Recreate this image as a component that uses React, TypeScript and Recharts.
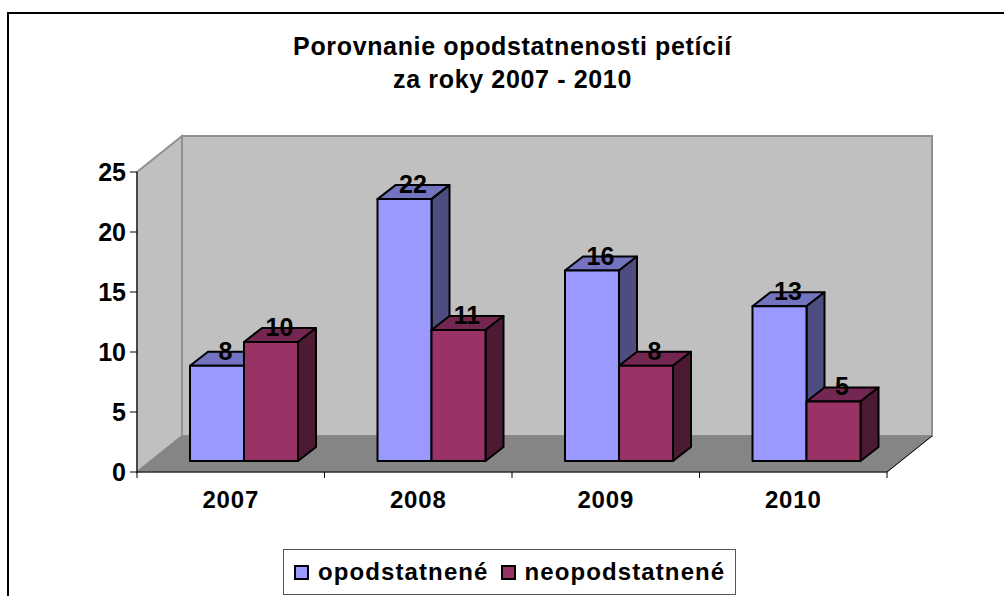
import React from 'react';
import { BarChart, Bar, XAxis, YAxis, Legend, LabelList, usePlotArea } from 'recharts';

const categories = ['2007', '2008', '2009', '2010'];
const opodstatnene = [8, 22, 16, 13];
const neopodstatnene = [10, 11, 8, 5];
const yTicks = [0, 5, 10, 15, 20, 25];
const titleLines = ['Porovnanie opodstatnenosti petícií', 'za roky 2007 - 2010'];

const data = categories.map((rok, i) => ({
  rok,
  opodstatnené: opodstatnene[i],
  neopodstatnené: neopodstatnene[i],
}));

const FONT = '"Liberation Sans", Arial, sans-serif';
const WALL_DX = 45;
const WALL_DY = 36;
const BAR_DX = 18;
const BAR_DY = 14;
const SHIFT_X = 13;
const LIFT_Y = 11;
const HEIGHT_K = 0.992;

function Backdrop() {
  const p = usePlotArea();
  if (!p) return null;
  const { x, y, width: w, height: h } = p;
  const band = w / categories.length;
  const b = y + h;
  return (
    <g>
      <path d="M8 596 V13 H1004" fill="none" stroke="#000" strokeWidth={2} />
      {titleLines.map((t, i) => (
        <text key={t} x={512.5} y={55 + i * 33} textAnchor="middle" fontFamily={FONT} fontWeight="bold" fontSize={25} letterSpacing={0.65} fill="#000">
          {t}
        </text>
      ))}
      <polygon
        points={`${x + WALL_DX},${y - WALL_DY} ${x + w + WALL_DX},${y - WALL_DY} ${x + w + WALL_DX},${b - WALL_DY} ${x + WALL_DX},${b - WALL_DY}`}
        fill="#C0C0C0" stroke="#909090" strokeWidth={2}
      />
      <polygon
        points={`${x},${y} ${x + WALL_DX},${y - WALL_DY} ${x + WALL_DX},${b - WALL_DY} ${x},${b}`}
        fill="#C0C0C0" stroke="#909090" strokeWidth={2}
      />
      <polygon
        points={`${x},${b} ${x + WALL_DX},${b - WALL_DY} ${x + w + WALL_DX},${b - WALL_DY} ${x + w},${b}`}
        fill="#858585" stroke="#858585" strokeWidth={1}
      />
      <line x1={x + w} y1={b} x2={x + w + WALL_DX} y2={b - WALL_DY} stroke="#000" strokeWidth={1} />
      {[0, 1, 2, 3, 4].map((i) => (
        <line key={i} x1={x + i * band} x2={x + i * band} y1={b} y2={b + 6} stroke="#000" strokeWidth={1} />
      ))}
    </g>
  );
}

function makeShape(topFill: string, sideFill: string) {
  return function Bar3D(props: any) {
    const { x, y, width: w, height, fill } = props;
    const X = x + SHIFT_X;
    const base = y + height - LIFT_Y;
    const top = base - height * HEIGHT_K;
    const s = { stroke: '#000', strokeWidth: 2, strokeLinejoin: 'round' as const };
    return (
      <g>
        <polygon points={`${X},${top} ${X + BAR_DX},${top - BAR_DY} ${X + w + BAR_DX},${top - BAR_DY} ${X + w},${top}`} fill={topFill} {...s} />
        <polygon points={`${X + w},${top} ${X + w + BAR_DX},${top - BAR_DY} ${X + w + BAR_DX},${base - BAR_DY} ${X + w},${base}`} fill={sideFill} {...s} />
        <rect x={X} y={top} width={w} height={base - top} fill={fill} {...s} />
      </g>
    );
  };
}

function ValueLabel(props: any) {
  const { x, y, width: w, height, value } = props;
  const top = y + height - LIFT_Y - height * HEIGHT_K;
  return (
    <text x={x + SHIFT_X + w / 2 + 8.5} y={top - 6} textAnchor="middle" fontFamily={FONT} fontWeight="bold" fontSize={25} fill="#000">
      {value}
    </text>
  );
}

function LegendBox(props: any) {
  const items = props.payload || [];
  return (
    <div style={{ boxSizing: 'border-box', width: 453, height: 46, border: '1px solid #555', background: '#fff', display: 'flex', alignItems: 'center', paddingLeft: 10, fontFamily: FONT, fontWeight: 'bold', fontSize: 24, letterSpacing: 1.1, color: '#000' }}>
      {items.map((it: any) => (
        <span key={it.value} style={{ display: 'inline-flex', alignItems: 'center', marginRight: 12 }}>
          <span style={{ boxSizing: 'border-box', display: 'inline-block', width: 15, height: 15, background: it.color, border: '2px solid #000', marginRight: 9 }} />
          {it.value}
        </span>
      ))}
    </div>
  );
}

const xTickStyle = { fontFamily: FONT, fontWeight: 'bold', fontSize: 24, letterSpacing: 0.8, fill: '#000' };
const yTickStyle = { fontFamily: FONT, fontWeight: 'bold', fontSize: 25, fill: '#000' };

export default function App() {
  return (
    <div style={{ position: 'absolute', left: 0, top: 0, width: 1004, height: 596, overflow: 'hidden', background: '#fff' }}>
      <BarChart
        width={1004}
        height={596}
        data={data}
        margin={{ top: 172, right: 117, bottom: 84, left: 77 }}
        barSize={54}
        barGap={0}
      >
        <Backdrop />
        <XAxis dataKey="rok" height={40} tickLine={false} axisLine={{ stroke: '#000', strokeWidth: 1 }} tick={xTickStyle} tickMargin={13} />
        <YAxis type="number" domain={[0, 25]} ticks={yTicks} width={60} tickSize={7} tickLine={{ stroke: '#000' }} axisLine={{ stroke: '#000', strokeWidth: 1 }} tick={yTickStyle} tickMargin={4} interval={0} />
        <Legend
          layout="horizontal"
          verticalAlign="middle"
          align="center"
          itemSorter={null}
          content={<LegendBox />}
          wrapperStyle={{ position: 'absolute', left: 283, top: 549, width: 453, height: 46, margin: 0 }}
        />
        <Bar dataKey="opodstatnené" fill="#9999FF" shape={makeShape('#7373BF', '#4D4D80')} isAnimationActive={false}>
          <LabelList content={<ValueLabel />} />
        </Bar>
        <Bar dataKey="neopodstatnené" fill="#993366" shape={makeShape('#732650', '#4D1A33')} isAnimationActive={false}>
          <LabelList content={<ValueLabel />} />
        </Bar>
      </BarChart>
    </div>
  );
}
